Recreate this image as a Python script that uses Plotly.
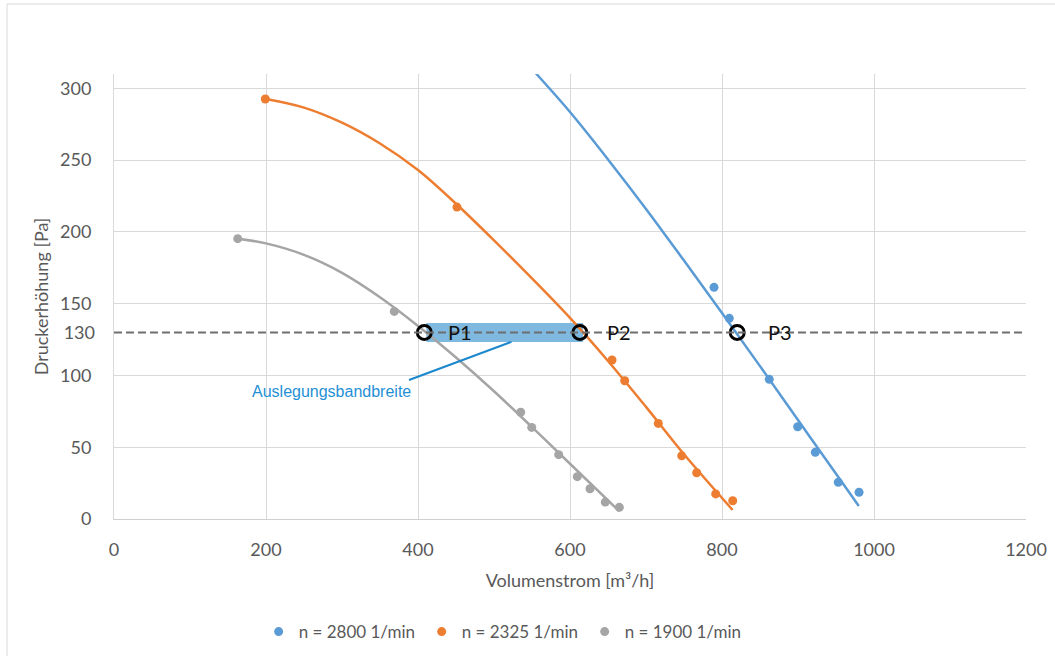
import plotly.graph_objects as go

# ---- axes ----
x_range = [0, 1200]
y_range = [0, 310]
x_ticks = [0, 200, 400, 600, 800, 1000, 1200]
y_ticks = [0, 50, 100, 150, 200, 250, 300]
ref_tick = [130]

# ---- measured points ----
names = ["n = 2800 1/min", "n = 2325 1/min", "n = 1900 1/min"]
colors = ["#5b9bd5", "#ed7d31", "#a5a5a5"]

q_2800 = [789.5, 809.6, 862.2, 899.6, 922.8, 953.0, 980.3]
p_2800 = [161.4, 139.8, 97.3, 64.3, 46.5, 25.6, 18.6]

q_2325 = [199.1, 451.3, 655.3, 672.0, 716.2, 747.0, 766.7, 791.7, 814.1]
p_2325 = [292.6, 217.3, 110.8, 96.3, 66.6, 44.0, 32.2, 17.5, 12.7]

q_1900 = [162.8, 368.8, 535.1, 549.6, 585.1, 609.6, 626.3, 646.4, 664.9]
p_1900 = [195.3, 144.6, 74.4, 63.8, 44.8, 29.5, 21.1, 11.8, 8.1]

# ---- trend curves ----
tq_2800 = [555, 600, 650, 700, 750, 800, 850, 900, 950, 980]
tp_2800 = [310.5, 283.5, 250.5, 216, 180, 143.5, 106.5, 69, 31.5, 9]

tq_2325 = [200, 250, 300, 350, 400, 450, 500, 550, 600, 650, 700, 750, 814]
tp_2325 = [292.6, 286.6, 276.1, 261.6, 243.1, 219.6, 194.1, 167.6, 140.1, 110.1, 78.1, 45.1, 6.3]

tq_1900 = [163, 200, 250, 300, 350, 400, 450, 500, 550, 600, 665]
tp_1900 = [195.3, 192.0, 184.0, 171.5, 154.5, 134.5, 112.5, 89.0, 64.0, 38.5, 5.3]

# ---- operating points / design band ----
ref_level = 130
op_q = [408.3, 613, 820]
op_labels = ["P1", "P2", "P3"]
op_label_shift = [22, 25, 29]
band_q = [411, 617]
callout_q = [388.2, 523]
callout_p = [96.8, 123.4]
callout_text = "Auslegungsbandbreite"
callout_text_p = 88.5

font_main = "Lato, 'Open Sans', sans-serif"
txt_col = "#595959"

fig = go.Figure()

# design band
fig.add_trace(go.Scatter(x=band_q, y=[ref_level] * len(band_q), mode="lines",
                         line=dict(color="#7fb9e0", width=19),
                         showlegend=False, hoverinfo="skip"))
# reference level dashed line (on overlay axis carrying the 130 tick)
fig.add_trace(go.Scatter(x=x_range, y=[ref_level] * 2, mode="lines", yaxis="y2",
                         line=dict(color="#6f6f6f", width=2, dash="8px,4px"),
                         showlegend=False, hoverinfo="skip"))

trends = [(tq_2800, tp_2800), (tq_2325, tp_2325), (tq_1900, tp_1900)]
points = [(q_2800, p_2800), (q_2325, p_2325), (q_1900, p_1900)]
for (tq, tp), c in zip(trends, colors):
    fig.add_trace(go.Scatter(x=tq, y=tp, mode="lines",
                             line=dict(color=c, width=2.5, shape="spline", smoothing=1),
                             showlegend=False, hoverinfo="skip"))
for (q, p), c, n in zip(points, colors, names):
    fig.add_trace(go.Scatter(x=q, y=p, mode="markers", name=n,
                             marker=dict(color=c, size=9)))

# callout line
fig.add_trace(go.Scatter(x=callout_q, y=callout_p, mode="lines",
                         line=dict(color="#1b87cc", width=2),
                         showlegend=False, hoverinfo="skip"))

# operating points
fig.add_trace(go.Scatter(x=op_q, y=[ref_level] * len(op_q), mode="markers",
                         marker=dict(symbol="circle-open", size=14, color="black",
                                     line=dict(color="black", width=3)),
                         showlegend=False, hoverinfo="skip"))
for q, lab, sh in zip(op_q, op_labels, op_label_shift):
    fig.add_annotation(x=q, y=ref_level, text=lab, showarrow=False,
                       xanchor="left", yanchor="middle", xshift=sh,
                       font=dict(family=font_main, size=20, color="#111111"))

fig.add_annotation(x=callout_q[0], y=callout_text_p, text=callout_text,
                   showarrow=False, xanchor="right", yanchor="middle", xshift=4,
                   font=dict(family="'Liberation Sans Narrow', 'Arial Narrow', sans-serif",
                             size=16, color="#1f8fd6"))

fig.add_shape(type="rect", xref="paper", yref="paper",
              x0=-0.1173, x1=1.2, y0=-0.5, y1=1.1573,
              line=dict(color="#d9d9d9", width=1), layer="below")

axis_font = dict(family=font_main, size=18, color=txt_col)
fig.update_layout(
    width=1055, height=656,
    margin=dict(l=114, r=29, t=74, b=137, autoexpand=False),
    paper_bgcolor="white", plot_bgcolor="white",
    font=dict(family=font_main, color=txt_col),
    xaxis=dict(range=x_range, tickvals=x_ticks, showgrid=True, gridcolor="#d9d9d9",
               gridwidth=1, zeroline=False, showline=True, linecolor="#cfcfcf",
               ticks="", tickfont=axis_font, ticklabelstandoff=14,
               title=dict(text="Volumenstrom [m³/h]", font=axis_font, standoff=15)),
    yaxis=dict(range=y_range, tickvals=y_ticks, showgrid=True, gridcolor="#d9d9d9",
               gridwidth=1, zeroline=False, showline=True, linecolor="#d9d9d9",
               ticks="", tickfont=axis_font, ticklabelstandoff=18,
               title=dict(text="Druckerhöhung [Pa]", font=axis_font, standoff=6)),
    yaxis2=dict(overlaying="y", matches="y", side="left", anchor="x",
                tickvals=ref_tick, showgrid=False, zeroline=False, showline=False,
                ticks="", tickfont=axis_font, ticklabelstandoff=18),
    legend=dict(orientation="h", x=0.4267, xanchor="center", y=-0.254, yanchor="middle",
                font=dict(family=font_main, size=17, color=txt_col),
                itemwidth=30, entrywidth=118),
    showlegend=True,
)

fig.write_html("out.html")
